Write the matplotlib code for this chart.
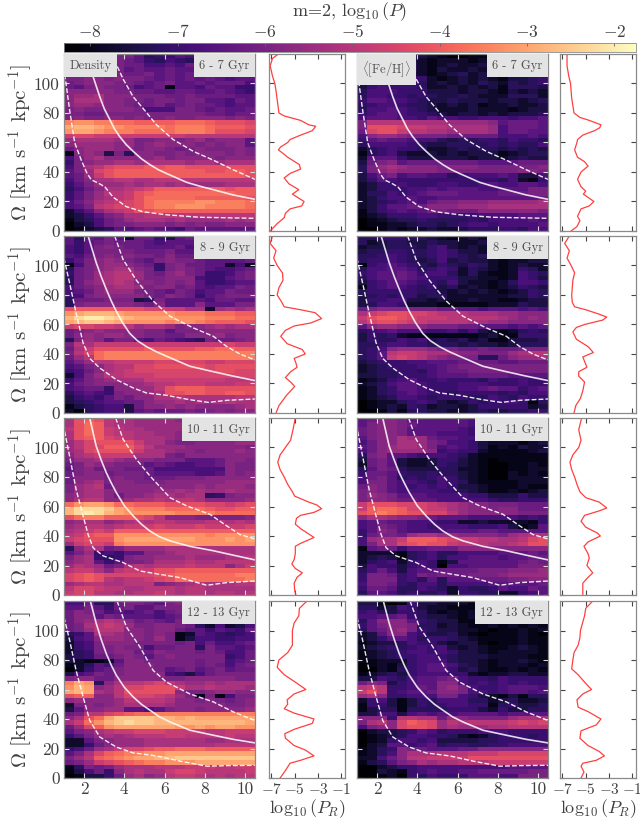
import matplotlib
matplotlib.use("Agg")
import matplotlib.pyplot as plt
import numpy as np

plt.rcParams['font.family'] = ['cmr10', 'DejaVu Sans']
plt.rcParams['mathtext.fontset'] = 'cm'
plt.rcParams['axes.unicode_minus'] = False
plt.rcParams['axes.formatter.use_mathtext'] = True

#------------------------------------------------------------------------------
# Heatmap cells, one string per Omega bin, top row first,
# R bins left to right. Each letter is a colour level of log10(P): a=-8.25, b=-8,
# ... z=-2 (steps of 0.25). Spaces are only there to keep the columns countable.

density_6_7 = [
    'iijji jjhef fhghi hhhi', 'ijijk jihfe gfehi hhhi', 'ijjkj jiigg hgigi hhhh', 'ijkjj jhihh ihhgi ihhi',
    'hjjjk jiijh ihihi ihhi', 'jjkkj kjjih ihihi hghh', 'ijkkk jjihi jhhih iiig', 'ihjkj jighi bhhgi hhff',
    'kkkkk jjiih hiihh ihgf', 'kllmk kkjjj iijii iihh', 'kmmmk kjjij jijjh hgih', 'kllkk kjiij hijii hghh',
    'jkjjk kkjgg gjjih ihhi', 'jjiij jjjjj jjjji ihii', 'jkjjk kjkjj kjjkk kjkj', 'tuutt ssrrr rsssr qqqp',
    'vwwvu utttt sttts rrrq', 'uvvut ttsss sttts qqqp', 'oppoo ooooo oonnn nnnn', 'lmmmm lljjk kjklj kkkh',
    'kllll kljkl kkkjk jkkh', 'iklll kkjkk jijkj jjkj', 'bklkd jekkj jkjkk kjkj', 'gjlmk kkkkl jkkkk jkkk',
    'fjkll mmlmm mmlmm lmmm', 'gjmnp qqqrq rrqqq qqqq', 'hjlpq rrrrr rrrrq qrrq', 'hiloq rrrrr rrrrr rrrq',
    'gikmm nnmmn nnnnn nnnn', 'fhjll lmlmm lmlll lmmm', 'egikm mnopr rrrrr rqrr', 'fhjln noqrs sssss ssrr',
    'fhjlm noqss sssrr rrrq', 'gikmn opqst tttuu ttts', 'ghjno ppqst tuuut ttts', 'cfhkm noqqr rrrrr rrrr',
    'cdfhj kmmnn nnnnn nnnn', 'bdegi jlmmm lmlll lmlm', 'acdgi jjkkk jkjkj jkkk', 'abcde hghih gfihh hhhh',
]
feh_6_7 = [
    'fffgf edcba abbcb bbbc', 'fggfe dcbcc cbcbb bbcc', 'effgf ecbcd ccdcc bcdc', 'fgfff ecbdc cdccc bcdc',
    'eggfe dcbcd ecdcb cdec', 'cfffg gfcbc dcdcb ddef', 'cfgge fecdc dcedc edef', 'dfgff feccd cdcdb eeed',
    'egggf ffddd cddcb dcdc', 'eggff efedd edccc eeec', 'fhhgg fedde dddcd dcde', 'efggf eedcd cdbcc dccd',
    'egghg fedcc cdccc bcdd', 'fghhg ffedc ddcdc ddde', 'ghhhg gfhgg ffggg fggh', 'jnnnn mmmml lllkh iiih',
    'jqqqp oonnm mmmlg iiih', 'ipqqo nnmml mmmlg iihh', 'gkllk jjjji iiiig gghg', 'fhihh ggged eeffe gffe',
    'egggg fedde eeefe feeg', 'cefgf feccd edeed eded', 'befgd ccdcd cdddb cdee', 'chhhf ddddd dcddc dedd',
    'dijkh iiiii iihhh hiii', 'ejlml kkkjk kkjjj jjjk', 'ejklk kkkjj jjjjj jkkj', 'dgijg hhgge fgggh gddg',
    'dfhgf fffff ffffe gcbf', 'cdffg fffgg ffghg ghhg', 'cdfff gghgh hhggh hhjj', 'ceegf ghiii hhhhi iijj',
    'cdfgg hgghh hhhhh hhhi', 'cdefg hgijj kkkll lllm', 'cdfhh iikkk lllmm mmmm', 'bdfgh ghjji iikkk kkkj',
    'bcdff fggff ffggg ghhh', 'abcde efeee efegg gghg', 'abbcc deede fggfg gggh', 'aabcb ccdcc deeef fegg',
]
density_8_9 = [
    'heihj hciif dhihe hiih', 'hfhij iiihg hhhhf gihh', 'gfhjk jiihh higjh hihh', 'gfhjj jjiii jhhhh hhih',
    'hgijk jkjji kiiih iihh', 'fhjkl kjihj kjjih hhhi', 'bgjkl lkjif jkiih hcgb', 'eijkl mmkjf jkjih gghi',
    'fijlm nnlji kljif fgij', 'eijlm nnljj kkkgf fhij', 'eiklm nmkkj kjkhf fghh', 'gijkl mmljk kijhg hhji',
    'ghikl lljji hjigh hjii', 'fgjkk kkkji kjifh ijjj', 'eiiij jjdej hhhhg iihh', 'ejkkk kkjik hhhkh hhjj',
    'qrrrr qqqpp oommc lmlm', 'uvwww vuuuu uttts ssrr', 'wyzzy xwvvv vuuut ttss', 'vwxxw vuuuu tuuts rrrq',
    'oppoo nnlmm ljkkl mlmm', 'ijklk kkkjj hjjjk kkkk', 'iklkl lkkjj iikkk ljkk', 'ejlkh jjhgi hgfej iijk',
    'jnmoo ooooo ooooo opoo', 'imoqq qqqrq qqqrr ssrr', 'jnpst ttttt ttttt tttt', 'ilnst ttttt ttttt tttt',
    'hjlnn oooop ppppo oppp', 'ghjkm nnppq qqqqp qqqq', 'fgikm noppp ppppp qqpp', 'cgjln nooop ppppp pppp',
    'fhjkl mmmoo ooooo onnn', 'gijkk kllmn nooon nnoo', 'ghiif kklln qrrrq qqqq', 'eghgf jkklm qqrrq qrrq',
    'dfgfh jikkm mnmmm mmnn', 'defgh hiikl lmlml mnmm', 'bdefg gdikk lklkk kklm', 'caefg gdhih iijij kjkk',
]
feh_8_9 = [
    'eefff eedcb cdcbb cdcb', 'ecdee ddedd ccdbb bcbb', 'cddee edfgd cdcbb bccb', 'deeff eefgf ddccb ccbb',
    'eefgf eefgf ededc cccc', 'effgf edegd eddcb ccdd', 'bfghg fedfe dfecb cdcc', 'egghh gefgf cedcb cfec',
    'fghhi hfgge cecbb cgfe', 'eghhi hgfff ddccb cgfd', 'dfghh gffeg dccbc eggf', 'bfghg fefde cdcbc dfed',
    'effff feedc dcdcb cdfe', 'defef fdeec ccccc ddfe', 'dffgg ddcdc cdccb bcdd', 'deggf cccbb bbbcc cedd',
    'ijkkk jjjii hhghh hghg', 'mopqq pponn nmmml lkkk', 'oqrrq pooon nnnnm lklk', 'npqqp oonnn nmmll kkkk',
    'hkllk kkjjj iihhh ghgh', 'efghg ggffg egdcb cefe', 'dfefc bbbbb bbcdb bfff', 'dfeeg fgded ecdbb ddde',
    'eefgg ffeee deddc deee', 'efgkl llkjj iijii ijjj', 'efhno onmml kkjjj lmnn', 'efhop onlkj jjeei kllm',
    'defff gghhh iiiih hiii', 'cdeff fgghi jjjjj jjjj', 'cdeef feghi ijjjj jjjj', 'ddeef ffghh hiiii hhhh',
    'bcdfg hffgf ffegf fgff', 'cdegh hgfff gggff fgff', 'bcefh hgfff gghih hfgh', 'bcefg hgffe ffffe fegg',
    'bcdeg gfeff feegf egff', 'abcce fgfdc dfeff gfbe', 'abcdc fecdd cdfff ffcd', 'aabdb eeddc cdedd eeff',
]
density_10_11 = [
    'mqrqn mmlll lklml mlll', 'mqsrn mmlll llkkl mlll', 'nqsro nmmll llkkl lmlm', 'mqsro nnmml lkkkl llll',
    'mqrrp onmmm lkklk kkkl', 'lnpqq qqomm kjjkk kkll', 'lnppr rrpnl llkkk kkkj', 'lmpqq qqomm lkkjk kklk',
    'kmnoo oommm jikkk kkkk', 'jllmm lkkkj jjhhh ikkj', 'ijlkk jjjhi hgghh ikjj', 'hjkij jiiig ggggg gkjj',
    'ijkki jjjih hhhgg hkjk', 'ikkkj kjjii ijjjk kkkk', 'iklmj kkjjj kkkkk klll', 'jlmni kkkkk kkklk lllk',
    'jlmmk kkkkl lmlml lmll', 'klmmk ikklm mlmme fjkk', 'kmnnk klmmn mnnmk kkkl', 'suvvu ssrrr qqqqp popq',
    'wyyyx vuttt ssssr qqrr', 'wyzyw vuuuu utttt ssss', 'qsttr rrqpn kkkjj jjjk', 'klmmk lmnmn nmmmn nmnm',
    'lmnnm nooop ooopo ooop', 'mnopo rrrrr rrrrr rrrr', 'noqrr uuuuu uuuut uuuu', 'opqqq uvvvv vvvuu uvuv',
    'loppo tuuuu uuuuu uuuu', 'ekmmi jllll mmmmm mmmm', 'hjlfg fhhkk lmmmm mmmm', 'jlmfe fjkkl llmll lmmn',
    'klmhf hjjkm mmnmm nnnn', 'lnmli jmnmn nnonn nkmo', 'noomk noooq qrrrr rrrr', 'pqrqp ppppq rssss sstt',
    'pqrqn mnnop qssss ssst', 'lmnnm mnnnj klmnm mmnn', 'nppon nmmnn nmnnm mmmm', 'oppnn mmnno nmnnm nnmn',
]
feh_10_11 = [
    'hikkj hhhhh hgfgd cdef', 'hjkkj ihhhh hgfec cdef', 'ijkkj hhhhh gfgeb cbcd', 'ijkkj hhhgg gfedb bcde',
    'hjkkm llihh ggedc bcde', 'gikkm mljig gfdcc cbcd', 'hiklm mljgh gfdbc bdcc', 'gikll llkfg ffcbb bbcd',
    'ejkhh gfggf ecbbb bbbb', 'dijhd ccdff dcbab bbbb', 'cijhd ccdfe dcbaa bbcb', 'ehjie dddee ccbaa bbcc',
    'fiihf eefee dcbaa cbcb', 'gijhe fefgf dcbaa cccc', 'gjjhg gfegf ecbbb bccc', 'ikjhg fgfgf ddcbb bcbb',
    'jkjhg gggff edcbb cbcd', 'jlkjh hhggg gffdd dfdd', 'jkkji ihhgg gggfe efff', 'oqqqp pponm lkkjj jiii',
    'orssr ppoom lkkjk kiii', 'qrtsr qqppn lkkkk kjjj', 'kmmlk kjihh hgggg gfgf', 'ghihh gggff ccdcc ccbf',
    'ghjih ggfgg gfffg dbch', 'fhkjh ggggh hhiih hhhh', 'fijji lmmll kkkkj lmnm', 'glmmo rrrqp oonnm mnpq',
    'gjmmp qrqqo nnnmm noqq', 'bhiif hhiii kkkkk kkkk', 'ccccb efgee ggggh hhih', 'cdedb efgeg ghhhg hhii',
    'cefgc fgfbd hhhhh hiji', 'dgffd fgfag ghhhh hjjj', 'egigd ghhii iijjj kkkl', 'fjjif gjiji ijjjk llll',
    'fjjjf geheh hhiii jjkk', 'gjjif eggeg ggghh hhhi', 'fiihe egfec feefh ggih', 'ehhge feefc ffeec cfgh',
]
density_12_13 = [
    'ggiee ijjih jkgdg ihjj', 'hhjhf ijhhj jjefg gihi', 'ikjig hghig ijggi jkjj', 'ikkhj ihhhg hijhh iiji',
    'iklmn mkiji hjijk jkjj', 'ijmno nljjk kjiec gcdg', 'ijlnn nkkjk kihhf hgfi', 'efhmm lkkjk jbchg fefg',
    'dghkl lkkjl jbdgg ffgg', 'cfgjk kkjjj jijgi gghi', 'cfgjj kjjgi ijjej hhgh', 'cefjj kkiik jjjij iggi',
    'defii jkjhj kjjjj jfgi', 'dcbbc hkkjj jjjij jghi', 'bcehg ikkkj jjjij igij', 'acfhi jkkkj hijhi jhii',
    'dghji jkkkk gfdgi jjjj', 'jkkii kkkkk jjkkk kkjj', 'tvuek mnnop nmllm lmmm', 'uwvkl nppqq qommn mmml',
    'vwvml nqqqq qkjjk llkk', 'qrrkk npppo nljbj bgjj', 'klkkk lnnnn mkkjk jijk', 'cjkjk lmmmm lkkkk kjjk',
    'dhkkl lhhgh jkkjk kkkl', 'ijnnp qrsst ttttt tttt', 'kmqsv xxxxw wvwvv vvvv', 'mosuw xyxxw wwwww wwwv',
    'ilpru vvvvv vuuvu vvuu', 'hjkmn ooppp oooon nooo', 'fhjlm lmnnn oonnn nonn', 'cchjk lllmm mmmml lmmm',
    'ccfik lllmm mmmmm nnnn', 'fgilm oppqr rsssr rrrr', 'hjmpr sttuu vvvvv vvvv', 'jlnrs tuvvw wxxxx xxxx',
    'ijlop qrstt uuuvv vvvv', 'bejij lmmmn nnooo nnoo', 'bdgif kmnmm oppon nnno', 'abddf ilmkl noonm nmnn',
]
feh_12_13 = [
    'ddbab fddcc cbdba abba', 'eecdg fdccb bbbcb abbb', 'fgedf fecbc bcbba cbcc', 'gghhi feddc bcbbb cbbc',
    'ehkkk hfedd bbbbb cbcc', 'fhjkk jeecd cbbcb cbcb', 'ehikl jfedd ccbab bcbc', 'cdhkk gfdde cbabb bcba',
    'cdfhh geffe dcbbb bcbb', 'bcdde gffdc ddbab bcbb', 'cdefe fgfgd cdcbb cdcb', 'bcdef ggfgf ddcbc cccb',
    'bcdef fggfe dddcc ccbb', 'bbccc fggge ddcbc cdcb', 'abcbd fghhg edcbc ccbc', 'aacbe fghhf decbb cbcb',
    'bcded fgggf fcbcc ddcc', 'ddgfe ghhij gffeg ffff', 'ikjdf ghhkk gfgfg fgff', 'nonff gihkl jgffg hhhg',
    'oqnfg hhikk jggfg hhgh', 'lmkff gggjj gfdcb dbee', 'cfgdb dfegg geecd eccd', 'bffdb dfefg gffbe fdde',
    'bdeeb eeeef ffdcf ddee', 'ddggd ghghg hhhhg hhhh', 'kkkfn nmmil kjjjj lmmm', 'jmnkp rqpln mnnnn opop',
    'gjkkp qqplm lllmm nnnn', 'acdde fhgef ffggg ffff', 'abcde ggffe cbcef ffef', 'abcfg gfgdd ddeef ffff',
    'acdhh fghef feeff gggg', 'bcefk jihhh iikkk kkkk', 'bcegk mmmnn nooop pppp', 'ccgik nnooo oqqqq qqqq',
    'bdehj kmlmm nnnoo oooo', 'aacdf fgggg ggggg hhhh', 'aadcb fghgg hhiii iijj', 'aabca fegff fhhhg gjjj',
]

r_edges = [1 + 0.5*i for i in range(20)]
omega_edges = [120 - 3*i for i in range(41)]

#------------------------------------------------------------------------------
# Resonance curves (R, Omega), same in both columns of a row

solid_r_6_7 = [2.2, 2.44, 2.78, 3.0, 3.28, 3.5, 3.77, 4.1, 4.44, 4.85, 5.27, 5.7, 6.1, 7.1, 7.8, 8.43, 9.4, 10.5]
solid_om_6_7 = [122, 105, 91, 83, 75.5, 69.5, 64, 58.5, 54, 49, 45, 41.5, 39, 33, 30.2, 28, 24.5, 21.5]
upper_r_6_7 = [3.35, 3.6, 3.94, 4.44, 4.94, 5.6, 6.43, 7.43, 8.43, 9.42, 10.5]
upper_om_6_7 = [120, 113, 103, 91, 83, 72, 62, 54, 48, 41.5, 35]
lower_r_6_7 = [1.0, 1.07, 1.28, 1.53, 1.86, 2.15, 2.36, 2.7, 3.03, 3.44, 4.1, 4.94, 6.1, 7.76, 10.5]
lower_om_6_7 = [106, 103, 82, 60, 48, 39, 34.7, 32.5, 30, 23, 16.5, 13, 11, 9.3, 8.6]

solid_r_8_9 = [2.2, 2.6, 2.85, 3.1, 3.35, 3.6, 3.9, 4.27, 4.65, 5.1, 5.6, 6.1, 6.7, 7.26, 8.43, 9.42, 10.5]
solid_om_8_9 = [120, 102, 92.5, 84, 76, 69, 61.5, 54, 49, 45, 41.5, 38.5, 35, 31.7, 28, 25, 22]
upper_r_8_9 = [3.52, 3.94, 4.6, 5.43, 6.27, 7.43, 8.43, 9.1, 9.75, 10.5]
upper_om_8_9 = [120, 104, 90, 76, 65.6, 57.7, 52, 45, 40, 36]
lower_r_8_9 = [1.0, 1.03, 1.28, 1.6, 1.95, 2.28, 2.78, 3.6, 4.44, 5.1, 6.1, 7.26, 8.18, 9.1, 10.5]
lower_om_8_9 = [105, 103, 88, 68, 47.5, 37, 30.5, 22.6, 17, 13.6, 12, 9, 7.2, 8.6, 9.5]

solid_r_10_11 = [2.28, 2.6, 2.85, 3.1, 3.35, 3.6, 4.0, 4.44, 4.85, 5.27, 5.75, 6.27, 7.26, 8.43, 9.42, 10.5]
solid_om_10_11 = [120, 101, 91.5, 83, 76, 69.5, 60.5, 53.6, 48, 43.4, 39.5, 36.7, 33, 30, 27, 23.8]
upper_r_10_11 = [3.57, 3.94, 4.6, 5.27, 6.27, 7.1, 8.26, 9.1, 9.75, 10.5]
upper_om_10_11 = [120, 105.6, 92, 80.8, 66, 60.4, 54.7, 46.8, 41, 38]
lower_r_10_11 = [1.03, 1.28, 1.6, 1.95, 2.2, 2.45, 2.95, 3.94, 4.77, 5.77, 6.76, 8.1, 9.1, 10.5]
lower_om_10_11 = [111, 94, 71.7, 53.6, 41, 32, 26.5, 22, 16.3, 14, 11.8, 6.6, 8.4, 9.5]

solid_r_12_13 = [2.31, 2.6, 2.85, 3.1, 3.35, 3.6, 4.0, 4.44, 4.85, 5.27, 5.75, 6.27, 7.26, 8.43, 9.42, 10.5]
solid_om_12_13 = [120, 105, 94, 84.4, 76.5, 69.7, 61.5, 55, 50, 46, 41.5, 38, 32.4, 29, 26.2, 23.8]
upper_r_12_13 = [3.64, 4.1, 4.77, 5.43, 6.1, 7.26, 8.43, 9.42, 10.5]
upper_om_12_13 = [120, 102.5, 89, 73, 65, 57, 51.6, 44.8, 39]
lower_r_12_13 = [1.0, 1.28, 1.6, 1.95, 2.28, 2.78, 3.6, 4.44, 5.6, 6.76, 8.1, 9.1, 10.5]
lower_om_12_13 = [109, 93.4, 73, 55, 39, 27.8, 21, 17, 15, 11.5, 8, 8.4, 8.6]

#------------------------------------------------------------------------------
# Side profiles log10(P_R) against Omega

pr_om_density_6_7 = [120, 117, 112, 105, 100, 95, 89, 80, 78, 75, 72, 71, 68, 65, 62, 60, 57, 55, 52, 50, 45, 42, 39, 36, 32, 28, 25, 22, 20, 17, 15, 12, 9, 5, 0]
pr_density_6_7 = [-6.4, -6.9, -7.1, -6.9, -6.7, -6.6, -6.5, -6.35, -5.9, -4.5, -3.8, -3.2, -3.5, -4.5, -5.4, -5.6, -6.2, -6.4, -5.9, -5.6, -4.6, -4.5, -5.4, -5.9, -5.5, -4.65, -5.2, -4.6, -4.2, -4.4, -5.4, -5.8, -5.9, -6.5, -7.1]
pr_om_feh_6_7 = [120, 112, 105, 100, 90, 80, 77, 75, 72, 70, 68, 65, 62, 60, 55, 50, 47, 44, 40, 35, 30, 27, 25, 20, 17, 15, 10, 7, 3, 0]
pr_feh_6_7 = [-6.6, -6.6, -6.45, -6.3, -6.2, -6.0, -5.5, -4.7, -3.7, -3.8, -4.25, -5.25, -5.7, -5.75, -5.95, -5.7, -5.1, -4.8, -5.4, -5.7, -5.4, -5.0, -5.2, -4.3, -4.7, -5.4, -5.7, -5.5, -5.75, -6.25]
pr_om_density_8_9 = [120, 115, 110, 105, 100, 95, 90, 85, 80, 75, 72, 70, 68, 64, 61, 59, 56, 52, 47, 43, 40, 37, 34, 31, 28, 24, 21, 18, 12, 5, 0]
pr_density_8_9 = [-6.9, -7.1, -6.6, -6.8, -6.5, -6.05, -6.0, -6.35, -6.5, -6.1, -5.9, -4.5, -3.25, -2.7, -3.65, -5.05, -5.8, -6.2, -5.65, -4.35, -4.1, -5.05, -4.9, -4.8, -5.35, -5.8, -5.35, -5.0, -5.7, -6.35, -6.6]
pr_om_feh_8_9 = [120, 115, 110, 105, 100, 95, 90, 80, 75, 72, 70, 67, 65, 63, 60, 58, 55, 50, 45, 41, 38, 35, 31, 28, 25, 21, 15, 10, 5, 0]
pr_feh_8_9 = [-6.4, -6.8, -6.4, -6.6, -6.25, -5.95, -6.1, -6.2, -6.15, -5.95, -5.0, -3.85, -3.2, -3.55, -5.1, -5.8, -6.1, -5.8, -4.8, -4.35, -5.25, -5.1, -4.9, -5.6, -5.6, -5.1, -5.25, -5.45, -5.85, -6.0]
pr_om_density_10_11 = [120, 112, 105, 100, 95, 90, 85, 80, 75, 70, 67, 63, 61, 58.5, 56, 54, 52, 48, 45, 39, 35, 33, 28, 24, 21, 18, 15, 12, 8, 3, 0]
pr_density_10_11 = [-4.95, -5.15, -5.35, -5.8, -6.25, -6.45, -6.25, -5.9, -5.6, -5.2, -5.0, -3.8, -3.1, -2.7, -3.35, -4.5, -4.85, -4.95, -4.5, -3.35, -4.5, -4.95, -4.95, -5.05, -5.25, -4.95, -4.35, -4.8, -5.05, -5.0, -4.9]
pr_om_feh_10_11 = [120, 112, 105, 100, 95, 90, 85, 80, 75, 70, 66, 63, 59, 57, 54, 50, 46, 42, 40, 36, 33, 28, 25, 20, 15, 12, 8, 0]
pr_feh_10_11 = [-5.35, -5.6, -5.4, -5.6, -6.1, -6.35, -6.2, -5.95, -5.75, -5.5, -5.0, -3.85, -3.2, -3.85, -5.1, -5.4, -5.0, -4.0, -3.75, -4.8, -5.15, -4.8, -4.7, -4.9, -4.4, -4.8, -5.25, -5.25]
pr_om_density_12_13 = [120, 115, 110, 105, 100, 90, 85, 80, 75, 70, 65, 60, 57, 53, 50, 47, 44, 40, 37, 33, 30, 27, 22, 19, 15, 12, 10, 5, 0]
pr_density_12_13 = [-3.95, -4.6, -4.65, -5.05, -5.2, -5.2, -5.6, -6.35, -6.5, -5.9, -4.95, -4.05, -5.05, -5.65, -5.6, -5.9, -5.05, -3.35, -3.5, -5.05, -5.85, -5.8, -5.05, -4.1, -3.35, -4.5, -5.4, -5.8, -6.25]
pr_om_feh_12_13 = [120, 115, 110, 100, 95, 90, 85, 80, 74, 70, 65, 60, 57, 53, 48, 45, 40, 36, 32, 27, 22, 18, 15, 12, 10, 8, 4, 0]
pr_feh_12_13 = [-4.4, -5.0, -5.1, -5.45, -5.5, -5.65, -6.0, -6.1, -6.2, -5.65, -5.1, -4.5, -5.25, -5.75, -5.65, -4.8, -3.7, -4.1, -5.4, -5.5, -4.8, -3.85, -3.4, -4.1, -5.25, -5.4, -5.15, -5.4]

age_labels = ['6 - 7 Gyr', '8 - 9 Gyr', '10 - 11 Gyr', '12 - 13 Gyr']
row_tops = [54, 236, 418, 601]
row_height = 177

density_maps = [density_6_7, density_8_9, density_10_11, density_12_13]
feh_maps = [feh_6_7, feh_8_9, feh_10_11, feh_12_13]
solid_curves = [(solid_r_6_7, solid_om_6_7), (solid_r_8_9, solid_om_8_9), (solid_r_10_11, solid_om_10_11), (solid_r_12_13, solid_om_12_13)]
upper_curves = [(upper_r_6_7, upper_om_6_7), (upper_r_8_9, upper_om_8_9), (upper_r_10_11, upper_om_10_11), (upper_r_12_13, upper_om_12_13)]
lower_curves = [(lower_r_6_7, lower_om_6_7), (lower_r_8_9, lower_om_8_9), (lower_r_10_11, lower_om_10_11), (lower_r_12_13, lower_om_12_13)]
density_profiles = [(pr_density_6_7, pr_om_density_6_7), (pr_density_8_9, pr_om_density_8_9), (pr_density_10_11, pr_om_density_10_11), (pr_density_12_13, pr_om_density_12_13)]
feh_profiles = [(pr_feh_6_7, pr_om_feh_6_7), (pr_feh_8_9, pr_om_feh_8_9), (pr_feh_10_11, pr_om_feh_10_11), (pr_feh_12_13, pr_om_feh_12_13)]

#------------------------------------------------------------------------------

text_color = '#404040'
frame_color = '#8a8a8a'
vmin, vmax = -8.3, -1.75


def px_axes(fig, left, top, width, height):
    return fig.add_axes([left/640, 1 - (top + height)/821, width/640, height/821])


def decode(rows):
    return np.array([[-8.25 + 0.25*(ord(c) - ord('a')) for c in row.replace(' ', '')] for row in rows])


def style_frame(ax, tick_color):
    for spine in ax.spines.values():
        spine.set_color(frame_color)
        spine.set_linewidth(0.9)
    ax.tick_params(direction='in', top=True, right=True, length=3.5, width=0.8, color=tick_color,
                   labelsize=12.5, labelcolor=text_color, pad=3)


fig = plt.figure(figsize=(6.4, 8.21), dpi=100)
mesh = None
box_style = dict(boxstyle='square,pad=0.42', fc='#e3e3e3', ec='none')

for row, top in enumerate(row_tops):
    last = row == len(row_tops) - 1
    for col, (left, side_left, maps, profiles) in enumerate([(64, 269, density_maps, density_profiles),
                                                             (357, 560, feh_maps, feh_profiles)]):
        ax = px_axes(fig, left, top, 191, row_height)
        mesh = ax.pcolormesh(r_edges, omega_edges, decode(maps[row]), cmap='magma', vmin=vmin, vmax=vmax)
        ax.plot(*solid_curves[row], color='white', lw=1.2, alpha=0.85)
        ax.plot(*upper_curves[row], color='white', lw=1.0, ls=(0, (3.5, 1.5)), alpha=0.9)
        ax.plot(*lower_curves[row], color='white', lw=1.0, ls=(0, (3.5, 1.5)), alpha=0.9)
        ax.set_xlim(1, 10.5)
        ax.set_ylim(0, 120)
        ax.set_xticks([2, 4, 6, 8, 10])
        ax.set_yticks([0, 20, 40, 60, 80, 100])
        style_frame(ax, '#d8d8d8')
        if last:
            ax.set_xticklabels(['2', '4', '6', '8', '10'])
        else:
            ax.set_xticklabels([])
        if col == 0:
            ax.set_yticklabels(['0', '20', '40', '60', '80', '100'])
            ax.set_ylabel(r'$\Omega$ [km s$^{-1}$ kpc$^{-1}$]', fontsize=15, color=text_color)
            ax.yaxis.set_label_coords(-0.15, 0.5)
        else:
            ax.set_yticklabels([])

        ax.text(0.972, 0.968, age_labels[row], transform=ax.transAxes, ha='right', va='top', fontsize=9,
                color='#505050', bbox=box_style)
        if row == 0:
            name = 'Density' if col == 0 else r'$\langle$[Fe/H]$\rangle$'
            ax.text(0.028, 0.968, name, transform=ax.transAxes, ha='left', va='top', fontsize=9,
                    color='#505050', bbox=box_style)

        side = px_axes(fig, side_left, top, 76, row_height)
        side.plot(*profiles[row], color='#ff2a2a', lw=0.9, alpha=0.9)
        side.set_xlim(-7.2, -0.7)
        side.set_ylim(0, 120)
        side.set_xticks([-7, -5, -3, -1])
        side.set_yticks([0, 20, 40, 60, 80, 100])
        side.set_yticklabels([])
        style_frame(side, '#444444')
        if last:
            side.set_xticklabels(['$-7$', '$-5$', '$-3$', '$-1$'], fontsize=11)
            side.set_xlabel(r'$\log_{10}(P_R)$', fontsize=13, color=text_color, labelpad=0)
        else:
            side.set_xticklabels([])

# Colour bar over the whole width
cax = px_axes(fig, 64, 43, 572, 9)
cb = fig.colorbar(mesh, cax=cax, orientation='horizontal')
cb.set_ticks([-8, -7, -6, -5, -4, -3, -2])
cb.set_ticklabels(['$-8$', '$-7$', '$-6$', '$-5$', '$-4$', '$-3$', '$-2$'])
cax.xaxis.set_ticks_position('top')
cax.tick_params(direction='in', length=2, width=0.6, color='#666666', labelsize=12.5, labelcolor=text_color, pad=2)
cb.outline.set_edgecolor(frame_color)
cb.outline.set_linewidth(0.6)
fig.text(350/640, 1 - 12/821, r'm=2, $\log_{10}(P)$', ha='center', va='center', fontsize=13, color=text_color)

fig.savefig('out.png', dpi=100)
